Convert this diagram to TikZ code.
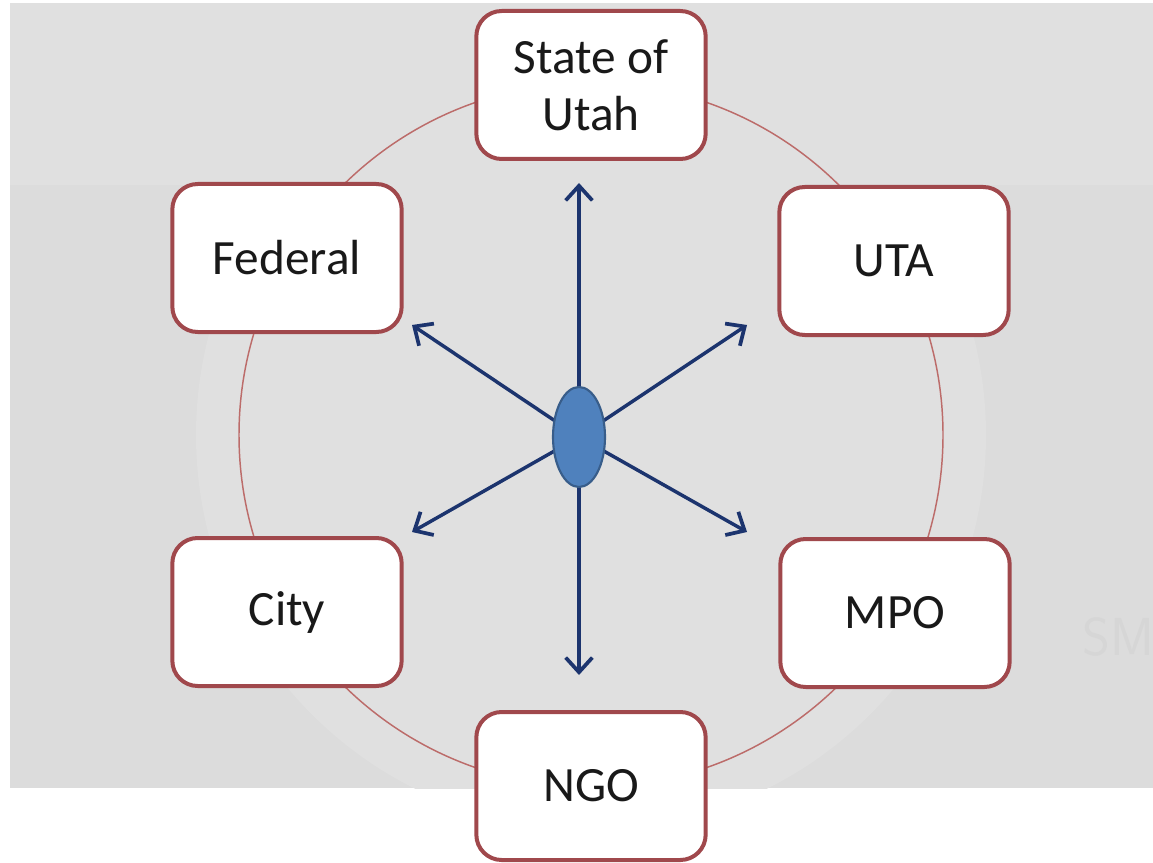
\documentclass[tikz,border=0pt]{standalone}
\usepackage{fontspec}
\setmainfont{Carlito}
\usetikzlibrary{arrows.meta,shapes.geometric}
\definecolor{bggray}{RGB}{220,220,220}
\definecolor{bglight}{RGB}{224,224,224}
\definecolor{boxred}{RGB}{160,72,76}
\definecolor{ringred}{RGB}{188,108,106}
\definecolor{navy}{RGB}{28,52,110}
\definecolor{hubfill}{RGB}{79,129,189}
\definecolor{hubline}{RGB}{56,93,138}
\definecolor{wm}{RGB}{214,214,214}
\tikzset{
  party/.style={draw=boxred, line width=3pt, fill=white, rounded corners=19pt,
    minimum width=172pt, minimum height=111pt, inner sep=0pt, align=center,
    font=\fontsize{37}{43}\selectfont, text=black!90},
  spoke/.style={draw=navy, line width=2.6pt, -{Straight Barb[length=11pt,width=20pt,line width=2.8pt]}},
  ring/.style={draw=ringred, line width=1.1pt},
}
\begin{document}
\begin{tikzpicture}[x=0.75pt,y=-0.75pt]
\useasboundingbox (0,0) rectangle (1153,863);
\fill[white] (0,0) rectangle (1153,863);
\fill[bggray] (10,3) rectangle (1153,788);
\begin{scope}
\clip (10,3) rectangle (1153,788);
\fill[bglight] (10,3) rectangle (1153,185);
\fill[bglight] (591,435) circle (395);
\end{scope}
\node[text=wm, font=\sffamily\fontsize{40}{40}\selectfont, anchor=west] (wmark) at (1078,637) {SM};
\draw[ring] (591,435) circle (352);
\node[party] (state) at (591,85) {State of\\Utah};
\node[party] (fed) at (287,258) {Federal};
\node[party] (uta) at (894,261) {UTA};
\node[party] (city) at (287,612) {City};
\node[party] (mpo) at (895,613) {MPO};
\node[party] (ngo) at (591,786) {NGO};
\coordinate (hubc) at (579,437);
\coordinate (tUp) at (579,183);
\coordinate (tDn) at (579,675);
\coordinate (tUL) at (412,325);
\coordinate (tUR) at (747,325);
\coordinate (tLL) at (412,532);
\coordinate (tLR) at (747,532);
\foreach \t in {tUp,tDn,tUL,tUR,tLL,tLR} \draw[spoke] (hubc) -- (\t);
\node[ellipse, draw=hubline, line width=1.6pt, fill=hubfill, minimum width=39pt, minimum height=75pt, inner sep=0pt] (hub) at (hubc) {};
\end{tikzpicture}
\end{document}
